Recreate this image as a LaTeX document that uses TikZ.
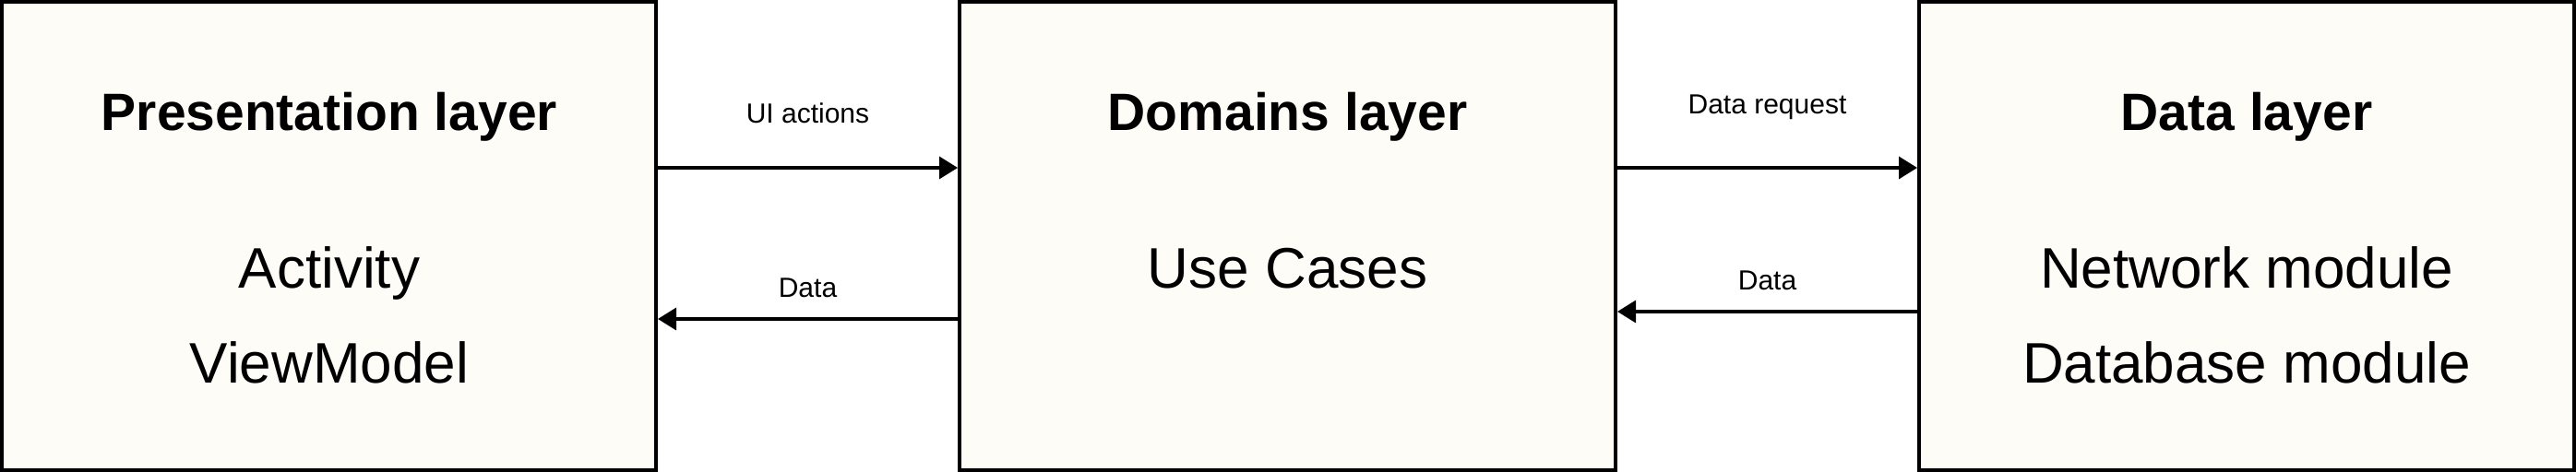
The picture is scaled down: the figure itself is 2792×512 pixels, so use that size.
\documentclass[tikz,border=0pt]{standalone}
\usepackage{fontspec}
\setmainfont{Liberation Sans}
\usetikzlibrary{arrows.meta}
\definecolor{boxfill}{HTML}{FDFCF7}
\tikzset{
  layer/.style={draw=black, line width=2pt, fill=boxfill, inner sep=0pt, minimum height=254pt},
  title/.style={font=\fontsize{28.5}{34}\selectfont\bfseries, anchor=base, inner sep=0pt},
  body/.style={font=\fontsize{31}{37}\selectfont, anchor=base, inner sep=0pt},
  lbl/.style={font=\fontsize{15}{18}\selectfont, anchor=base, inner sep=0pt},
  arr/.style={line width=1.6pt, -{Triangle[length=10pt,width=12pt]}}
}
\begin{document}
\begin{tikzpicture}[x=0.5pt,y=-0.5pt]
\useasboundingbox (0,0) rectangle (2792,512);
\node[layer, minimum width=354.5pt] (b1) at (356.5,256) {};
\node[layer, minimum width=355.5pt] (b2) at (1395.5,256) {};
\node[layer, minimum width=355pt] (b3) at (2435,256) {};
% box texts
\node[title] (t1) at (357,142) {Presentation layer};
\node[body] (a1) at (357,313) {Activity};
\node[body] (a2) at (357,416) {ViewModel};
\node[title] (t2) at (1395.5,142) {Domains layer};
\node[body] (u1) at (1395.5,313) {Use Cases};
\node[title] (t3) at (2435,142) {Data layer};
\node[body] (n1) at (2435,313) {Network module};
\node[body] (n2) at (2435,416) {Database module};
% connectors
\draw[arr] ([yshift=37pt]b1.east) -- node[lbl, yshift=24pt] (l1) {UI actions} ([yshift=37pt]b2.west);
\draw[arr] ([yshift=-45pt]b2.west) -- node[lbl, yshift=11.5pt] (l2) {Data} ([yshift=-45pt]b1.east);
\draw[arr] ([yshift=37pt]b2.east) -- node[lbl, yshift=29pt] (l3) {Data request} ([yshift=37pt]b3.west);
\draw[arr] ([yshift=-41pt]b3.west) -- node[lbl, yshift=11.5pt] (l4) {Data} ([yshift=-41pt]b2.east);
\end{tikzpicture}
\end{document}
